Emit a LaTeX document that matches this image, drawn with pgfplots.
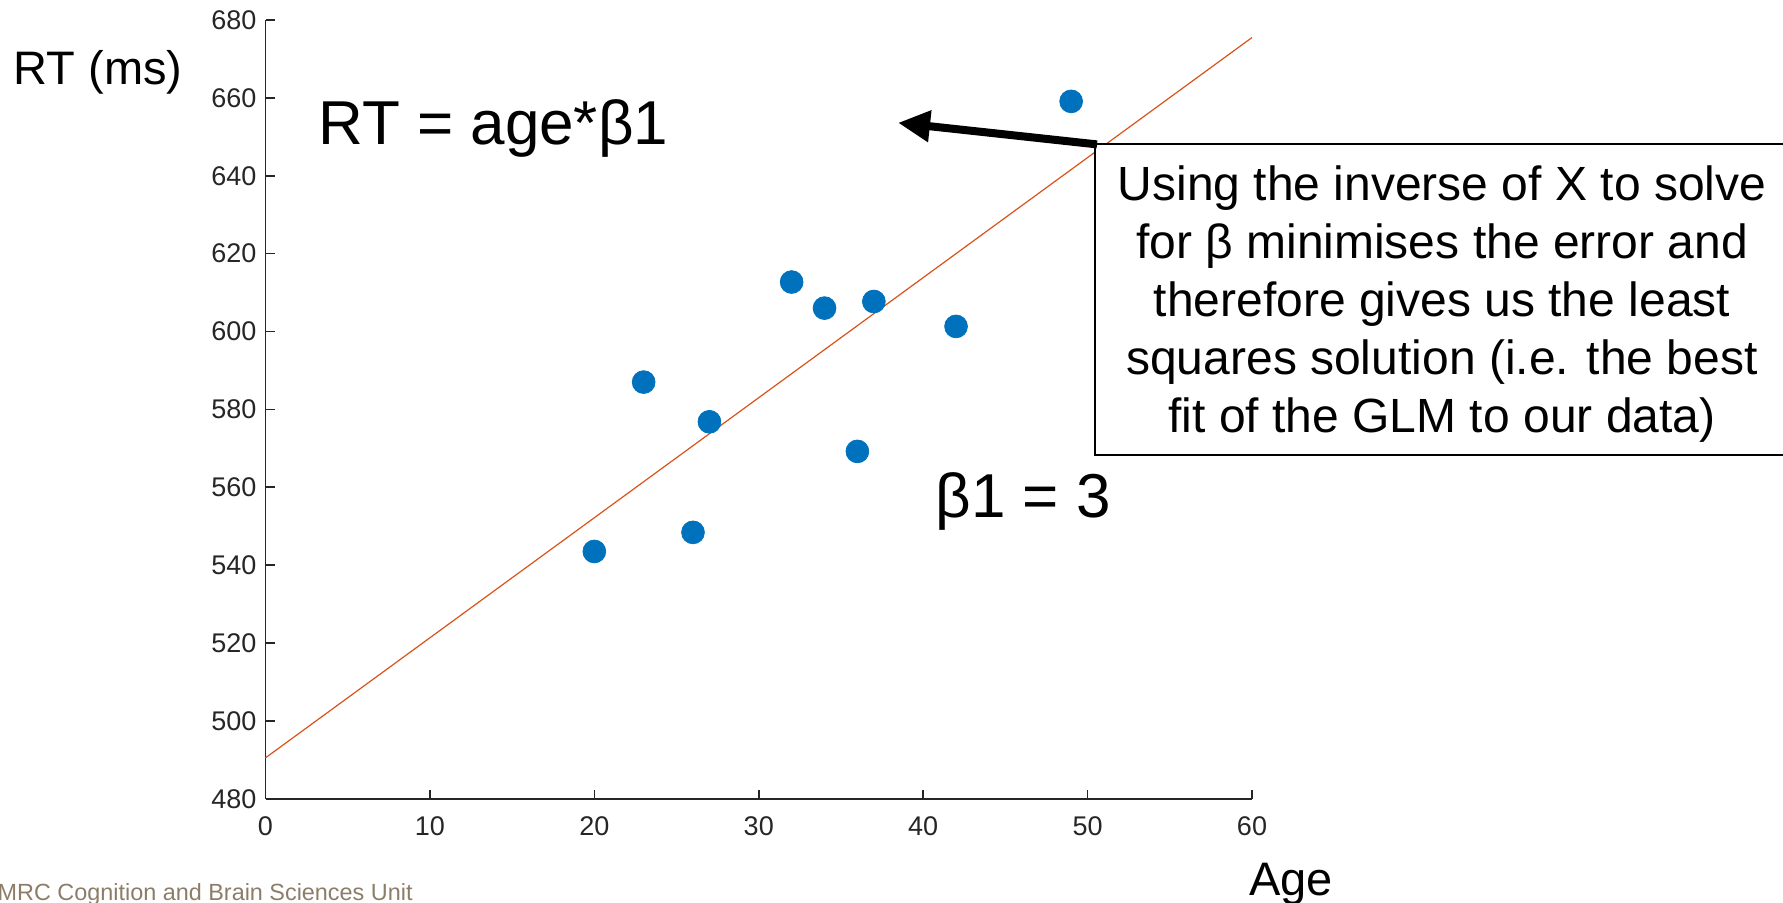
\documentclass[border=0pt]{standalone}
\usepackage{pgfplots}
\pgfplotsset{compat=1.18}
\usepackage{fontspec}
\setmainfont{Liberation Sans}
\usetikzlibrary{arrows.meta}
\definecolor{mblue}{RGB}{0,114,189}
\definecolor{morange}{RGB}{217,83,25}
\definecolor{axgray}{RGB}{38,38,38}
\definecolor{mrc}{RGB}{140,125,105}
\begin{document}
\begin{tikzpicture}
\path[use as bounding box] (0,0) rectangle (891.5pt,451pt);
\clip (0,0) rectangle (891.5pt,451pt);
\begin{axis}[
  at={(132.75pt,51.65pt)}, anchor=south west,
  scale only axis, width=493.25pt, height=389.35pt,
  xmin=0, xmax=60, ymin=480, ymax=680,
  axis lines=left, axis line style={-, axgray, line width=0.8pt},
  xtick={0,10,...,60}, ytick={480,500,...,680},
  tick style={axgray, line width=0.8pt}, major tick length=4.5pt,
  tick align=inside,
  ticklabel style={font=\fontsize{13.5}{16}\selectfont, text=axgray},
  /pgf/number format/assume math mode=true,
  xticklabel style={yshift=-5.5pt},
  yticklabel style={xshift=-1pt},
  clip=false,
]
\addplot[morange, line width=0.6pt] coordinates {(0,490.5) (60,675.5)};
\addplot[only marks, mark=*, mark size=5.7pt, color=mblue, mark options={draw=mblue, fill=mblue}] coordinates {
(20,543.5) (23,587) (26,548.4) (27,576.8) (32,612.7)
(34,606) (37,607.7) (36,569.2) (42,601.3) (49,659.1)};
\end{axis}
% labels
\node[anchor=base, font=\fontsize{23.5}{28}\selectfont] at (49pt,408.5pt) {RT (ms)};
\node[anchor=base, font=\fontsize{23.5}{28}\selectfont] at (645.5pt,3.5pt) {Age};
\node[anchor=base west, font=\fontsize{31}{36}\selectfont, inner sep=0pt] at (159pt,378.8pt) {RT = age*β1};
\node[anchor=base west, font=\fontsize{31}{36}\selectfont, inner sep=0pt] at (467.5pt,192.5pt) {β1 = 3};
% box
\draw[black, line width=1pt, fill=white] (547.5pt,223.5pt) rectangle (905pt,379pt);
\node[align=center, font=\fontsize{24}{29}\selectfont, inner sep=0pt] at (721pt,299pt)
  {Using the inverse of X to solve\\for β minimises the error and\\therefore gives us the least\\squares solution (i.e. the best\\fit of the GLM to our data)};
% arrow
\draw[black, line width=4pt, -{Triangle[length=16pt,width=15pt]}] (548.5pt,378.8pt) -- (449pt,389.6pt);
% footer
\node[anchor=base east, inner sep=0pt, text=mrc, font=\fontsize{11.7}{14}\selectfont] at (206.5pt,1pt) {MRC Cognition and Brain Sciences Unit};
\end{tikzpicture}
\end{document}
